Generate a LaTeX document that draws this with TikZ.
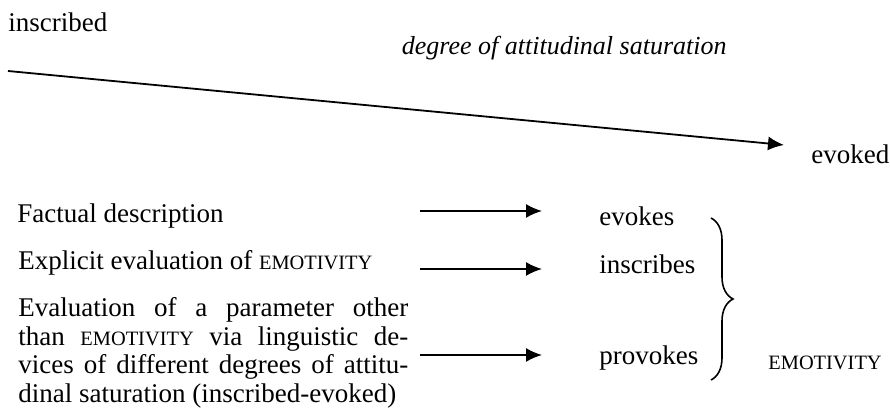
\documentclass[tikz,border=0pt]{standalone}
\usepackage{fontspec}
\setmainfont{Liberation Serif}
\usetikzlibrary{arrows.meta,decorations.pathreplacing}
\newcommand\mysc[1]{{\fontsize{10.2pt}{10.2pt}\selectfont #1}}
\tikzset{
  txt/.style={inner sep=0pt, font=\fontsize{13.5pt}{14.25pt}\selectfont},
  arr/.style={line width=0.9pt, -{Latex[length=8pt,width=7pt]}},
}
\begin{document}
\begin{tikzpicture}[x=0.5pt,y=-0.5pt]
\useasboundingbox (0,0) rectangle (890,415);
% top scale
\node[txt, anchor=west] (ins) at (8,22) {inscribed};
\node[txt, anchor=east, font=\fontsize{13pt}{14pt}\selectfont\itshape] (deg) at (727,48) {degree of attitudinal saturation};
\node[txt, anchor=west] (evd) at (811,154) {evoked};
\coordinate (s0) at (8,71);
\coordinate (e0) at (784,145);
\draw[arr] (s0) -- (e0);
% rows
\node[txt, anchor=west] (fd) at (17,216) {Factual description};
\node[txt, anchor=west] (ee) at (18,263) {Explicit evaluation of \mysc{EMOTIVITY}};
\node[txt, anchor=west, align=left] (ep) at (18,353) {%
\makebox[195pt][s]{Evaluation of a parameter other}\\
\makebox[195pt][s]{than \mysc{EMOTIVITY} via linguistic de-}\\
\makebox[195pt][s]{vices of different degrees of attitu-}\\
dinal saturation (inscribed-evoked)};
\node[txt, anchor=west] (evs) at (599,216) {evokes};
\node[txt, anchor=west] (ins2) at (599,264) {inscribes};
\node[txt, anchor=west] (prv) at (599,358) {provokes};
\node[txt, anchor=west] (emo) at (768,363) {\mysc{EMOTIVITY}};
\coordinate (a1) at (420,211);
\coordinate (b1) at (542,211);
\coordinate (a2) at (420,269);
\coordinate (b2) at (542,269);
\coordinate (a3) at (420,355);
\coordinate (b3) at (542,355);
\draw[arr] (a1) -- (b1);
\draw[arr] (a2) -- (b2);
\draw[arr] (a3) -- (b3);
% brace
\coordinate (bt) at (711,218);
\coordinate (bb) at (711,380);
\draw[line width=0.8pt, decorate, decoration={brace, amplitude=11pt}] (bt) -- (bb);
\end{tikzpicture}
\end{document}
